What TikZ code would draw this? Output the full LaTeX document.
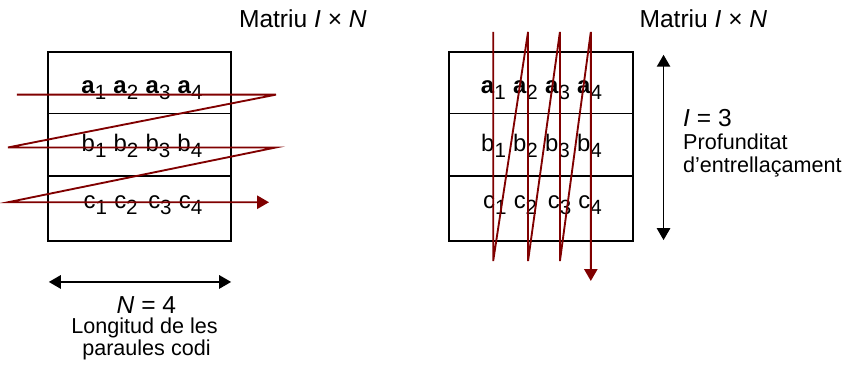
\documentclass[tikz,border=0pt]{standalone}
\usepackage{fontspec}
\setmainfont{Liberation Sans}
\usetikzlibrary{arrows.meta}
\definecolor{zigred}{RGB}{128,0,0}
\newcommand\sbs[1]{\raisebox{-4.5pt}{\fontsize{15.5}{17}\selectfont #1}}
\newcommand\ent[2]{#1\sbs{#2}}
\newcommand\gap{\hspace{5.4pt}}

\begin{document}
\begin{tikzpicture}[x=0.75pt,y=0.75pt,yscale=-1,xscale=1,
  box/.style={draw=black,line width=1.3pt},
  zig/.style={draw=zigred,line width=1.4pt},
  zigtip/.style={-{Triangle[length=9pt,width=10pt]}},
  dbl/.style={line width=1.4pt,{Triangle[length=9pt,width=10pt]}-{Triangle[length=9pt,width=10pt]}},
  big/.style={font=\fontsize{18.5}{22}\selectfont},
  cell/.style={font=\fontsize{18}{21}\selectfont},
  small/.style={font=\fontsize{16.25}{19}\selectfont}]
\path (0,0) rectangle (846,370);

%Shape: Rectangle [left matrix]
\draw [box] (48,52) rectangle (232,242);
\draw [box] (48,114) -- (232,114) (48,177) -- (232,177);
%Shape: Rectangle [right matrix]
\draw [box] (451,52) rectangle (635,242);
\draw [box] (451,114) -- (635,114) (451,177) -- (635,177);

% Text Node
\node [cell,anchor=base] (rowaL) at (142.5,94) {\ent{\textbf{a}}{1}\gap\ent{\textbf{a}}{2}\gap\ent{\textbf{a}}{3}\gap\ent{\textbf{a}}{4}};
% Text Node
\node [cell,anchor=base] (rowbL) at (142.5,152) {\ent{b}{1}\gap\ent{b}{2}\gap\ent{b}{3}\gap\ent{b}{4}};
% Text Node
\node [cell,anchor=base] (rowcL) at (143.5,209) {\ent{c}{1}\gap\ent{c}{2}\hspace{8pt}\ent{c}{3}\gap\ent{c}{4}};
% Text Node
\node [cell,anchor=base] (rowaR) at (543.5,94) {\ent{\textbf{a}}{1}\gap\ent{\textbf{a}}{2}\gap\ent{\textbf{a}}{3}\gap\ent{\textbf{a}}{4}};
% Text Node
\node [cell,anchor=base] (rowbR) at (543.5,152) {\ent{b}{1}\gap\ent{b}{2}\gap\ent{b}{3}\gap\ent{b}{4}};
% Text Node
\node [cell,anchor=base] (rowcR) at (544.5,209) {\ent{c}{1}\gap\ent{c}{2}\hspace{8pt}\ent{c}{3}\gap\ent{c}{4}};

%Straight Lines [row by row]
\coordinate (l1) at (17,95);
\coordinate (l2) at (277,95);
\coordinate (l3) at (8,148);
\coordinate (l4) at (277,148);
\coordinate (l5) at (8,203);
\coordinate (l6) at (270,203);
\draw [zig,zigtip] (l1) -- (l2) -- (l3) -- (l4) -- (l5) -- (l6);

%Straight Lines [column by column]
\coordinate (r1) at (495,32);
\coordinate (r2) at (495,262);
\coordinate (r3) at (530,32);
\coordinate (r4) at (530,262);
\coordinate (r5) at (562,32);
\coordinate (r6) at (562,262);
\coordinate (r7) at (593,32);
\coordinate (r8) at (593,282);
\draw [zig,zigtip] (r1) -- (r2) -- (r3) -- (r4) -- (r5) -- (r6) -- (r7) -- (r8);

%Straight Lines [dimensions]
\coordinate (n1) at (49,283);
\coordinate (n2) at (232,283);
\draw [dbl] (n1) -- (n2);
\coordinate (i1) at (666,55);
\coordinate (i2) at (666,241);
\draw [dbl] (i1) -- (i2);

% Text Node
\node [big,anchor=base] (ttlL) at (304,28) {Matriu \textit{I} × \textit{N}};
% Text Node
\node [big,anchor=base] (ttlR) at (706,28) {Matriu \textit{I} × \textit{N}};
% Text Node
\node [big,anchor=base] (nval) at (147,315) {\textit{N} = 4};
% Text Node
\node [small,anchor=base] (nlbl1) at (145,335) {Longitud de les};
% Text Node
\node [small,anchor=base] (nlbl2) at (147,357) {paraules codi};
% Text Node
\node [big,anchor=base west] (ival) at (681,127) {\textit{I} = 3};
% Text Node
\node [small,anchor=base west] (ilbl1) at (681,150) {Profunditat};
% Text Node
\node [small,anchor=base west] (ilbl2) at (681,173) {d’entrellaçament};

\end{tikzpicture}
\end{document}
